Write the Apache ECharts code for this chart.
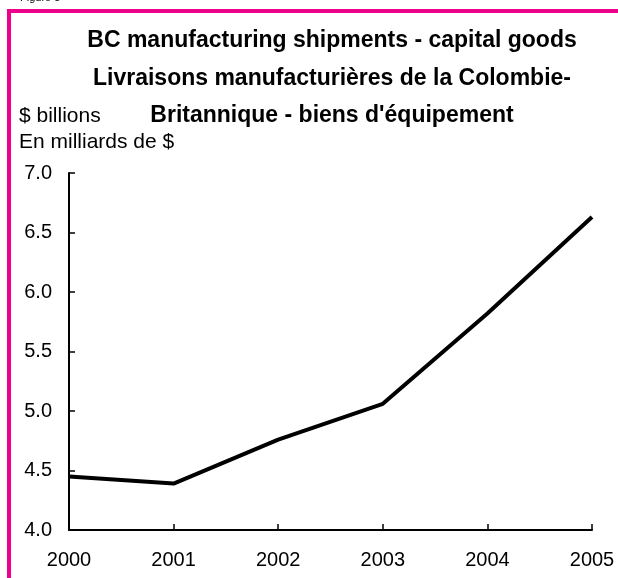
<!DOCTYPE html>
<html>
<head>
<meta charset="utf-8">
<script src="https://cdn.jsdelivr.net/npm/echarts@6/dist/echarts.min.js"></script>
<style>
  html, body { margin: 0; padding: 0; background: #fff; }
  #chart { width: 618px; height: 578px; }
</style>
</head>
<body>
<div id="chart"></div>
<script>
// data
const years = ['2000', '2001', '2002', '2003', '2004', '2005']
const shipments = [4.45, 4.39, 4.76, 5.06, 5.82, 6.63]
const titleLines = [
  'BC manufacturing shipments - capital goods',
  'Livraisons manufacturières de la Colombie-',
  'Britannique - biens d\'équipement'
]
const unitLines = ['$ billions', 'En milliards de $']

const chart = echarts.init(document.getElementById('chart'))
const font = 'Liberation Sans, Arial, sans-serif'

const option = {
  backgroundColor: '#fff',
  animation: false,
  title: {
    text: titleLines.join('\n'),
    left: 327,
    top: 17,
    textAlign: 'center',
    textStyle: {
      fontFamily: font,
      fontSize: 23,
      fontWeight: 'bold',
      color: '#000',
      lineHeight: 37.5
    }
  },
  graphic: [
    // pink frame (right and bottom edges run off the picture)
    {
      type: 'rect',
      shape: { x: 9, y: 11, width: 700, height: 700 },
      style: { fill: 'none', stroke: '#EC008C', lineWidth: 4 }
    },
    {
      type: 'text',
      left: 20,
      top: -8,
      style: { text: 'Figure 5', font: '11px ' + font, fill: '#000' }
    },
    {
      type: 'text',
      left: 19,
      top: 106,
      style: { text: unitLines[0], font: '21px ' + font, fill: '#000' }
    },
    {
      type: 'text',
      left: 19,
      top: 132,
      style: { text: unitLines[1], font: '21px ' + font, fill: '#000' }
    }
  ],
  grid: {
    left: 69,
    right: 26,
    top: 173,
    bottom: 48,
    containLabel: false
  },
  xAxis: {
    type: 'category',
    data: years,
    boundaryGap: false,
    axisLine: { lineStyle: { color: '#000', width: 2 } },
    axisTick: { inside: true, length: 6, lineStyle: { color: '#000', width: 1.5 } },
    axisLabel: {
      color: '#000',
      fontFamily: font,
      fontSize: 20,
      margin: 20
    },
    splitLine: { show: false }
  },
  yAxis: {
    type: 'value',
    min: 4,
    max: 7,
    interval: 0.5,
    axisLine: { show: true, lineStyle: { color: '#000', width: 2 } },
    axisTick: { show: true, inside: true, length: 6, lineStyle: { color: '#000', width: 1.5 } },
    axisLabel: {
      color: '#000',
      fontFamily: font,
      fontSize: 20,
      margin: 17,
      formatter: v => v.toFixed(1)
    },
    splitLine: { show: false }
  },
  series: [
    {
      type: 'line',
      data: shipments,
      symbol: 'none',
      lineStyle: { color: '#000', width: 4 }
    }
  ]
}

chart.setOption(option)
</script>
</body>
</html>
